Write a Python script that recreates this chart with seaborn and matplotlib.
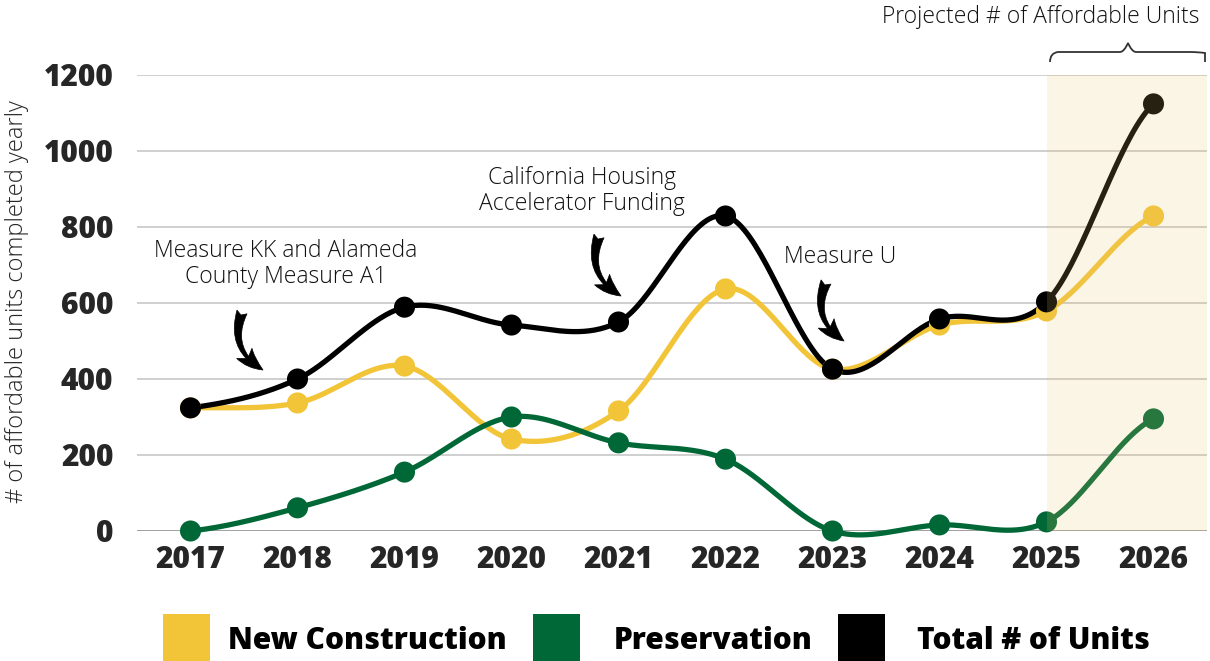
import numpy as np
import pandas as pd
import matplotlib
matplotlib.use("Agg")
import matplotlib.pyplot as plt
import seaborn as sns
from matplotlib.patches import Rectangle
from matplotlib.path import Path
from matplotlib.patches import PathPatch

years = ["2017", "2018", "2019", "2020", "2021", "2022", "2023", "2024", "2025", "2026"]
new_construction = [324, 337, 434, 242, 316, 637, 426, 542, 579, 829]
preservation = [0, 61, 155, 300, 232, 189, 0, 16, 24, 295]
total_units = [324, 400, 589, 542, 550, 829, 426, 558, 603, 1124]
y_ticks = [0, 200, 400, 600, 800, 1000, 1200]

series_names = ["New Construction", "Preservation", "Total # of Units"]
series_values = [new_construction, preservation, total_units]
colors = ["#F2C438", "#006837", "#000000"]

sns.set_theme(style="white")
plt.rcParams["font.family"] = ["Open Sans", "DejaVu Sans"]

fig = plt.figure(figsize=(12.1, 6.61), dpi=100)
ax = fig.add_axes([137 / 1210, 1 - 531 / 661, (1207 - 137) / 1210, (531 - 75) / 661])


def catmull_rom(xs, ys, n=40):
    xs = np.asarray(xs, float)
    ys = np.asarray(ys, float)
    px = np.concatenate([[2 * xs[0] - xs[1]], xs, [2 * xs[-1] - xs[-2]]])
    py = np.concatenate([[ys[0]], ys, [ys[-1]]])
    out_x, out_y = [], []
    for i in range(1, len(px) - 2):
        t = np.linspace(0, 1, n, endpoint=(i == len(px) - 3))
        for arr, out in ((px, out_x), (py, out_y)):
            p0, p1, p2, p3 = arr[i - 1], arr[i], arr[i + 1], arr[i + 2]
            out.extend(0.5 * ((2 * p1) + (-p0 + p2) * t
                              + (2 * p0 - 5 * p1 + 4 * p2 - p3) * t ** 2
                              + (-p0 + 3 * p1 - 3 * p2 + p3) * t ** 3))
    return np.array(out_x), np.array(out_y)


xpos = np.arange(len(years))
for name, vals, col in zip(series_names, series_values, colors):
    sx, sy = catmull_rom(xpos, vals)
    curve = pd.DataFrame({"x": sx, "y": sy})
    sns.lineplot(data=curve, x="x", y="y", ax=ax, color=col, linewidth=3.8,
                 sort=False, estimator=None, zorder=3)
    pts = pd.DataFrame({"x": xpos, "y": vals})
    sns.scatterplot(data=pts, x="x", y="y", ax=ax, color=col, s=230,
                    edgecolor="none", zorder=4, clip_on=False)
for ln in ax.lines:
    ln.set_clip_on(False)

# projected shading overlay
ax.axvspan(8, 9.5, color="#E8C468", alpha=0.17, zorder=5, lw=0)

ax.set_xlim(-0.5, 9.5)
ax.set_ylim(0, 1200)
ax.set_yticks(y_ticks)
ax.set_xticks(xpos)
ax.set_xticklabels(years)
for yt in y_ticks:
    ax.axhline(yt, color="#999999" if yt == 0 else "#cccccc", lw=1.3, zorder=1)
for sp in ax.spines.values():
    sp.set_visible(False)
ax.tick_params(axis="both", length=0, labelsize=21.5)
ax.tick_params(axis="y", pad=17)
ax.tick_params(axis="x", pad=10)
for lab in ax.get_xticklabels() + ax.get_yticklabels():
    lab.set_fontweight(800)
ax.set_xlabel("")
ax.set_ylabel("# of affordable units completed yearly", fontsize=17, fontweight=300)
ax.yaxis.set_label_coords((29 - 137) / 1070, (531 - 302) / 456)

# annotations
txt_kw = dict(xycoords="figure pixels", ha="center", va="center", fontsize=16.5,
              color="#111111", fontweight=300)
ax.annotate("Measure KK and Alameda\nCounty Measure A1", xy=(286, 661 - 264), linespacing=1.15, **txt_kw)
ax.annotate("California Housing\nAccelerator Funding", xy=(582, 661 - 191), linespacing=1.15, **txt_kw)
ax.annotate("Measure U", xy=(840, 661 - 257), **txt_kw)
ax.annotate("Projected # of Affordable Units", xy=(1041, 661 - 17), **txt_kw)

arrow_kw = dict(arrowstyle="fancy,head_length=0.75,head_width=0.55,tail_width=0.32",
                connectionstyle="arc3,rad=0.42", fc="black", ec="black", lw=0.5,
                mutation_scale=24, shrinkA=0, shrinkB=0)
for (x0, y0), (x1, y1) in [((242, 312), (263, 370)),
                           ((599, 236), (621, 296)),
                           ((826, 282), (844, 341))]:
    ax.annotate("", xy=(x1, 661 - y1), xytext=(x0, 661 - y0),
                xycoords="figure pixels", textcoords="figure pixels",
                arrowprops=arrow_kw)

# brace
def fp(x, y):
    return (x, 661 - y)

verts = [fp(1050, 62), fp(1050, 53), fp(1058, 52), fp(1066, 52),
         fp(1120, 52), fp(1124, 52), fp(1128, 43),
         fp(1132, 52), fp(1136, 52), fp(1190, 52),
         fp(1198, 52), fp(1205, 53), fp(1205, 62)]
codes = [Path.MOVETO, Path.CURVE3, Path.CURVE3, Path.LINETO,
         Path.LINETO, Path.CURVE3, Path.CURVE3,
         Path.CURVE3, Path.CURVE3, Path.LINETO,
         Path.CURVE3, Path.CURVE3, Path.LINETO]
fig.patches.append(PathPatch(Path(verts, codes), transform=None, fill=False,
                             lw=1.3, edgecolor="#333333", figure=fig))

# legend (manual layout)
legend_patch_x = [163, 533, 838]
legend_text_x = [228, 614, 917]
for name, col, px_, tx in zip(series_names, colors, legend_patch_x, legend_text_x):
    fig.patches.append(Rectangle((px_, 0), 47, 47, transform=None,
                                 facecolor=col, edgecolor="none", figure=fig))
    fig.text(tx / 1210, 1 - 641 / 661, name, ha="left", va="center",
             fontsize=21.5, fontweight=800, color="#000000")

fig.savefig("out.png", dpi=100)
